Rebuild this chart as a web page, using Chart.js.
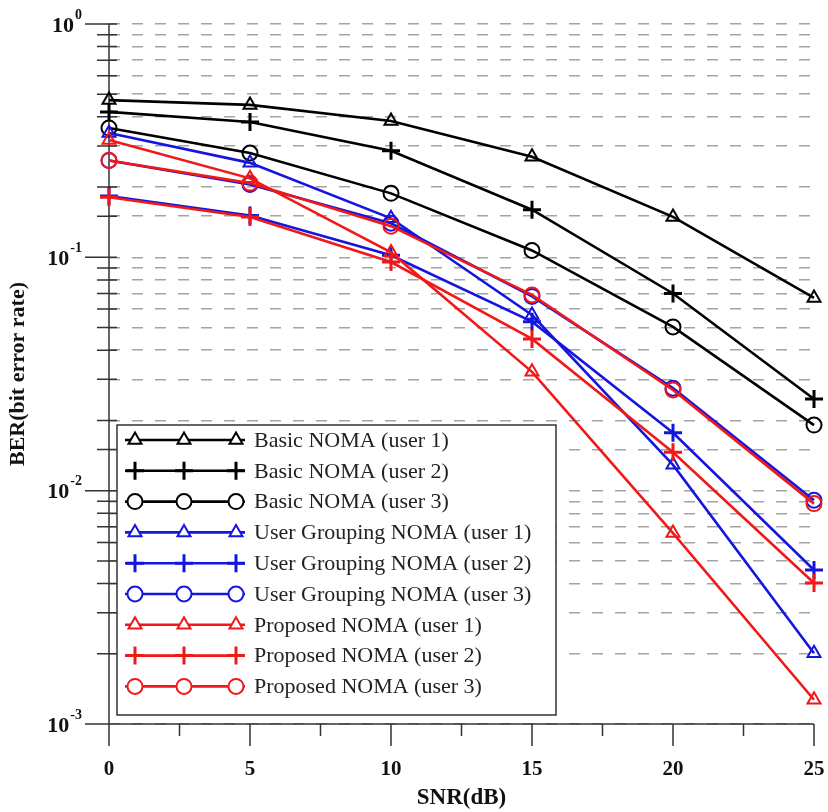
<!DOCTYPE html>
<html>
<head>
<meta charset="utf-8">
<title>BER vs SNR</title>
<script src="https://cdn.jsdelivr.net/npm/chart.js@4.4.0/dist/chart.umd.min.js"></script>
<style>
  html, body { margin: 0; padding: 0; background: #fff; }
  #wrap { width: 828px; height: 812px; }
</style>
</head>
<body>
<div id="wrap"><canvas id="berChart"></canvas></div>
<script>
  // --- data ---
  const snr = [0, 5, 10, 15, 20, 25];

  const basicUser1 = [0.472, 0.45, 0.384, 0.27, 0.149, 0.067];
  const basicUser2 = [0.42, 0.38, 0.286, 0.16, 0.07, 0.0247];
  const basicUser3 = [0.358, 0.28, 0.188, 0.107, 0.0503, 0.0191];

  const groupUser1 = [0.341, 0.254, 0.147, 0.0566, 0.0129, 0.00201];
  const groupUser2 = [0.183, 0.151, 0.102, 0.053, 0.0177, 0.00457];
  const groupUser3 = [0.26, 0.205, 0.14, 0.068, 0.0275, 0.0091];

  const propUser1 = [0.318, 0.218, 0.105, 0.0323, 0.00658, 0.00127];
  const propUser2 = [0.181, 0.149, 0.0955, 0.0447, 0.0146, 0.00402];
  const propUser3 = [0.26, 0.208, 0.136, 0.069, 0.027, 0.0088];

  const seriesNames = [
    "Basic NOMA (user 1)", "Basic NOMA (user 2)", "Basic NOMA (user 3)",
    "User Grouping NOMA (user 1)", "User Grouping NOMA (user 2)", "User Grouping NOMA (user 3)",
    "Proposed NOMA (user 1)", "Proposed NOMA (user 2)", "Proposed NOMA (user 3)"
  ];
  const xTickLabels = ["0", "5", "10", "15", "20", "25"];
  const yTickExponents = ["0", "-1", "-2", "-3"]; // shown as 10^e

  const BLACK = "#000000", BLUE = "#1515e0", RED = "#f01818";
  const SERIF = "'Liberation Serif', 'DejaVu Serif', serif";

  const isDecade = v => Math.abs(Math.log10(v) - Math.round(Math.log10(v))) < 1e-6;

  function makeSet(label, values, color, style, order) {
    const isPlus = style === "cross";
    return {
      label,
      data: snr.map((x, i) => ({ x, y: values[i] })),
      borderColor: color,
      backgroundColor: "rgba(255,255,255,0)",
      borderWidth: 2.6,
      pointStyle: style,
      pointRadius: isPlus ? 9 : 7.5,
      pointBorderWidth: isPlus ? 3 : 2,
      pointBorderColor: color,
      pointBackgroundColor: "rgba(255,255,255,0)",
      tension: 0,
      clip: false,
      order
    };
  }

  const datasets = [
    makeSet(seriesNames[0], basicUser1, BLACK, "triangle", 2),
    makeSet(seriesNames[1], basicUser2, BLACK, "cross", 2),
    makeSet(seriesNames[2], basicUser3, BLACK, "circle", 2),
    makeSet(seriesNames[3], groupUser1, BLUE, "triangle", 1),
    makeSet(seriesNames[4], groupUser2, BLUE, "cross", 1),
    makeSet(seriesNames[5], groupUser3, BLUE, "circle", 1),
    makeSet(seriesNames[6], propUser1, RED, "triangle", 0),
    makeSet(seriesNames[7], propUser2, RED, "cross", 0),
    makeSet(seriesNames[8], propUser3, RED, "circle", 0)
  ];

  // --- axis lines, tick marks and tick labels (positions from the scales) ---
  const axesPlugin = {
    id: "berAxes",
    beforeDatasetsDraw(chart) {
      const { ctx, chartArea: a, scales: { x, y } } = chart;
      ctx.save();
      ctx.strokeStyle = "#333";
      ctx.lineWidth = 1.5;
      ctx.setLineDash([]);
      ctx.beginPath();
      ctx.moveTo(a.left, a.top);
      ctx.lineTo(a.left, a.bottom + 22);
      ctx.moveTo(a.left, a.bottom);
      ctx.lineTo(a.right, a.bottom);
      y.ticks.forEach(t => {
        const py = y.getPixelForValue(t.value);
        ctx.moveTo(a.left - (isDecade(t.value) ? 24 : 12), py);
        ctx.lineTo(a.left + 8, py);
      });
      x.ticks.forEach(t => {
        const px = x.getPixelForValue(t.value);
        ctx.moveTo(px, a.bottom);
        ctx.lineTo(px, a.bottom + (t.value % 5 === 0 ? 22 : 12));
      });
      ctx.stroke();

      // tick labels
      ctx.fillStyle = "#111";
      ctx.textBaseline = "middle";
      ctx.font = "bold 21px " + SERIF;
      ctx.textAlign = "center";
      x.ticks.forEach(t => {
        if (t.value % 5 !== 0) return;
        ctx.fillText(xTickLabels[t.value / 5], x.getPixelForValue(t.value), a.bottom + 46);
      });
      y.ticks.forEach(t => {
        if (!isDecade(t.value)) return;
        const e = yTickExponents[-Math.round(Math.log10(t.value))];
        const py = y.getPixelForValue(t.value);
        ctx.font = "bold 14px " + SERIF;
        ctx.textAlign = "right";
        const supW = ctx.measureText(e).width;
        const right = a.left - 27;
        ctx.fillText(e, right, py - 9);
        ctx.font = "bold 22px " + SERIF;
        ctx.fillText("10", right - supW - 1, py + 2);
      });
      ctx.restore();
    }
  };

  // --- legend with three markers per entry, like the figure ---
  const legendPlugin = {
    id: "berLegend",
    afterDraw(chart) {
      const { ctx, chartArea: a } = chart;
      const box = { x: a.left + 8, y: a.bottom - 299, w: 439, h: 290 };
      ctx.save();
      ctx.fillStyle = "#fff";
      ctx.fillRect(box.x, box.y, box.w, box.h);
      ctx.strokeStyle = "#333";
      ctx.lineWidth = 1.5;
      ctx.strokeRect(box.x, box.y, box.w, box.h);

      const rowGap = 30.8;
      ctx.font = "22px " + SERIF;
      ctx.textBaseline = "middle";
      chart.data.datasets.forEach((ds, i) => {
        const cy = box.y + 15 + i * rowGap;
        const x0 = box.x + 8, x1 = box.x + 128;
        ctx.strokeStyle = ds.borderColor;
        ctx.lineWidth = ds.borderWidth;
        ctx.beginPath();
        ctx.moveTo(x0, cy);
        ctx.lineTo(x1, cy);
        ctx.stroke();
        [box.x + 18, box.x + 67, box.x + 119].forEach(mx => {
          ctx.strokeStyle = ds.borderColor;
          ctx.fillStyle = "#fff";
          ctx.lineWidth = ds.pointBorderWidth;
          Chart.helpers.drawPoint(ctx, {
            pointStyle: ds.pointStyle, radius: ds.pointRadius, rotation: 0, borderWidth: ds.pointBorderWidth
          }, mx, cy);
        });
        ctx.fillStyle = "#222";
        ctx.fillText(ds.label, box.x + 137, cy + 1);
      });
      ctx.restore();
    }
  };

  new Chart(document.getElementById("berChart"), {
    type: "line",
    data: { datasets },
    options: {
      responsive: true,
      maintainAspectRatio: false,
      animation: false,
      layout: { padding: { left: 0, top: 24, right: 14, bottom: 0 } },
      plugins: { legend: { display: false }, tooltip: { enabled: false } },
      scales: {
        x: {
          type: "linear",
          min: 0,
          max: 25,
          afterFit: s => { s.height = 88; },
          grid: { display: false, drawTicks: false },
          border: { display: false },
          ticks: { display: false, stepSize: 2.5, autoSkip: false },
          title: {
            display: true,
            text: "SNR(dB)",
            color: "#111",
            font: { family: SERIF, size: 23, weight: "bold" },
            padding: { top: 0, bottom: 0 }
          }
        },
        y: {
          type: "logarithmic",
          min: 0.001,
          max: 1,
          afterFit: s => { s.width = 109; },
          grid: { color: "#a3a3a3", lineWidth: 1.5, drawTicks: false },
          border: { display: false, dash: [11, 12] },
          ticks: { display: false, autoSkip: false },
          title: {
            display: true,
            text: "BER(bit error rate)",
            color: "#111",
            font: { family: SERIF, size: 22, weight: "bold" },
            padding: { top: 5, bottom: 0 }
          }
        }
      }
    },
    plugins: [axesPlugin, legendPlugin]
  });
</script>
</body>
</html>
